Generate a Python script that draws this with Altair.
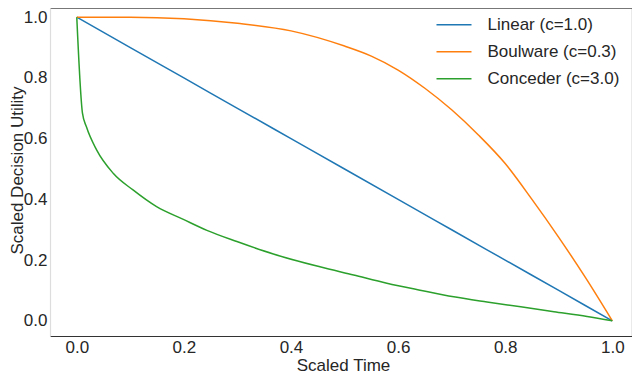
import altair as alt
import pandas as pd

# ---- data ----
series_names = ["Linear (c=1.0)", "Boulware (c=0.3)", "Conceder (c=3.0)"]
series_colors = ["#1f77b4", "#ff7f0e", "#2ca02c"]

linear_t = [0.0, 0.1, 0.2, 0.3, 0.4, 0.5, 0.6, 0.7, 0.8, 0.9, 1.0]
linear_u = [1.0, 0.9, 0.8, 0.7, 0.6, 0.5, 0.4, 0.3, 0.2, 0.1, 0.0]

boulware_t = [0.0, 0.1, 0.2, 0.3, 0.4, 0.5, 0.55, 0.6, 0.65, 0.7, 0.75, 0.8, 0.85, 0.9, 0.95, 1.0]
boulware_u = [1.0, 1.0, 0.995, 0.98, 0.955, 0.905, 0.872, 0.826, 0.766, 0.695, 0.612, 0.518, 0.40, 0.275, 0.142, 0.0]

conceder_t = [0.0, 0.0107, 0.018, 0.037, 0.068, 0.105, 0.149, 0.199, 0.243, 0.299, 0.367,
              0.454, 0.517, 0.579, 0.641, 0.704, 0.766, 0.829, 0.891, 0.953, 1.0]
conceder_u = [1.0, 0.683, 0.639, 0.563, 0.486, 0.431, 0.376, 0.334, 0.298, 0.261, 0.22,
              0.178, 0.151, 0.124, 0.101, 0.079, 0.062, 0.046, 0.030, 0.014, 0.0]

x_ticks = [0.0, 0.2, 0.4, 0.6, 0.8, 1.0]
y_ticks = [0.0, 0.2, 0.4, 0.6, 0.8, 1.0]

rows = []
for name, ts, us in zip(series_names,
                        [linear_t, boulware_t, conceder_t],
                        [linear_u, boulware_u, conceder_u]):
    for t, u in zip(ts, us):
        rows.append({"series": name, "t": t, "u": u})
df = pd.DataFrame(rows)

FONT = "Liberation Sans"
TXT = "#262626"

xscale = alt.Scale(domain=[-0.05, 1.0368], nice=False, zero=False)
yscale = alt.Scale(domain=[-0.05, 1.0303], nice=False, zero=False)

lines = alt.Chart(df).mark_line(strokeWidth=1.5, interpolate="monotone").encode(
    x=alt.X("t:Q", scale=xscale,
            axis=alt.Axis(title="Scaled Time", values=x_ticks, format=".1f",
                          ticks=False, grid=False, domainColor="#333333", domainWidth=1.2,
                          labelPadding=3, labelFontSize=17, labelFont=FONT, labelColor=TXT,
                          titleFontSize=17, titleFont=FONT, titleColor=TXT,
                          titleFontWeight="normal", titleX=293, titleY=34,
                          titleAlign="center", titleBaseline="alphabetic")),
    y=alt.Y("u:Q", scale=yscale,
            axis=alt.Axis(title="Scaled Decision Utility", values=y_ticks, format=".1f",
                          ticks=False, grid=False, domainColor="#dddddd", domainWidth=1.2,
                          labelPadding=3, labelFontSize=17, labelFont=FONT, labelColor=TXT,
                          titleFontSize=17, titleFont=FONT, titleColor=TXT,
                          titleFontWeight="normal", titleX=-32.2, titleY=162,
                          titleBaseline="middle", titleAlign="center")),
    color=alt.Color("series:N",
                    scale=alt.Scale(domain=series_names, range=series_colors),
                    legend=alt.Legend(title=None, orient="none", legendX=385.5, legendY=-1.8,
                                      symbolType="stroke", symbolSize=1225,
                                      symbolStrokeWidth=1.5, labelOffset=15,
                                      labelFontSize=17, labelFont=FONT, labelColor=TXT,
                                      rowPadding=-2, padding=0)),
)

frame = alt.Chart(df).mark_point(opacity=0).encode(
    x=alt.X("t:Q", scale=xscale,
            axis=alt.Axis(orient="top", labels=False, ticks=False, grid=False, title=None,
                          domainColor="#777777", domainWidth=1.2)),
    y=alt.Y("u:Q", scale=yscale,
            axis=alt.Axis(orient="right", labels=False, ticks=False, grid=False, title=None,
                          domainColor="#333333", domainWidth=1.2)),
)

chart = alt.layer(lines, frame).resolve_axis(x="independent", y="independent").properties(
    width=582, height=328,
    padding={"left": 42, "top": 0, "right": 0, "bottom": 40},
    autosize=alt.AutoSizeParams(type="none"),
).configure_view(strokeWidth=0).configure(background="white")

chart.save("out.html", embed_options={"renderer": "svg", "actions": False})
